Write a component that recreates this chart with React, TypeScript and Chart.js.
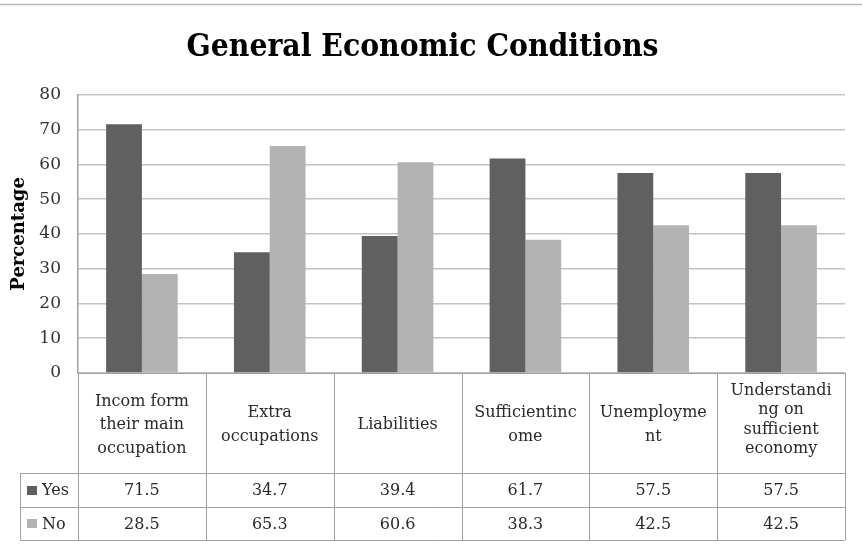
import React, { useEffect, useRef } from 'react';
import { Chart, registerables } from 'chart.js';

Chart.register(...registerables);

const chartTitle = 'General Economic Conditions';
const yAxisTitle = 'Percentage';
const categories: string[][] = [
  ['Incom form', 'their main', 'occupation'],
  ['Extra', 'occupations'],
  ['Liabilities'],
  ['Sufficientinc', 'ome'],
  ['Unemployme', 'nt'],
  ['Understandi', 'ng on', 'sufficient', 'economy'],
];
const seriesNames = ['Yes', 'No'];
const yesValues = [71.5, 34.7, 39.4, 61.7, 57.5, 57.5];
const noValues = [28.5, 65.3, 60.6, 38.3, 42.5, 42.5];
const yMin = 0;
const yMax = 80;
const yStep = 10;

const W = 862;
const H = 546;
const YES_COLOR = '#606060';
const NO_COLOR = '#b3b3b3';
const LINE_COLOR = '#a0a0a0';
const GRID_COLOR = '#c4c4c4';
const TEXT_COLOR = '#2a2a2a';
const SERIF = "'DejaVu Serif', serif";
const HEADER_H = 100;
const ROW1_H = 34;
const ROW2_H = 33;
const LEGEND_LEFT = 20.5;

const frameLinePlugin = {
  id: 'frameLine',
  beforeDraw(chart: any) {
    const ctx = chart.ctx;
    ctx.save();
    ctx.strokeStyle = '#b8b8b8';
    ctx.lineWidth = 1.5;
    ctx.beginPath();
    ctx.moveTo(0, 4.5);
    ctx.lineTo(chart.width, 4.5);
    ctx.stroke();
    ctx.restore();
  },
};

const dataTablePlugin = {
  id: 'dataTable',
  afterDraw(chart: any) {
    const { ctx, chartArea } = chart;
    const xs = chart.scales.x;
    const n = categories.length;
    const left = chartArea.left;
    const right = chartArea.right;
    const colW = (right - left) / n;
    const top = chartArea.bottom;
    const headerBottom = top + HEADER_H;
    const row1Bottom = headerBottom + ROW1_H;
    const row2Bottom = row1Bottom + ROW2_H;
    const px = (v: number) => Math.round(v) + 0.5;

    ctx.save();
    ctx.strokeStyle = LINE_COLOR;
    ctx.lineWidth = 1;
    ctx.beginPath();
    for (let i = 0; i <= n; i++) {
      const xb = i < n ? xs.getPixelForValue(i) - colW / 2 : xs.getPixelForValue(n - 1) + colW / 2;
      ctx.moveTo(px(xb), top);
      ctx.lineTo(px(xb), row2Bottom);
    }
    ctx.moveTo(LEGEND_LEFT, headerBottom);
    ctx.lineTo(LEGEND_LEFT, row2Bottom);
    ctx.moveTo(left, px(top));
    ctx.lineTo(right, px(top));
    for (const yy of [headerBottom, row1Bottom, row2Bottom]) {
      ctx.moveTo(LEGEND_LEFT, px(yy));
      ctx.lineTo(right, px(yy));
    }
    ctx.stroke();

    ctx.fillStyle = TEXT_COLOR;
    ctx.font = `16px ${SERIF}`;
    ctx.textAlign = 'center';
    ctx.textBaseline = 'middle';
    categories.forEach((lines, i) => {
      const cx = xs.getPixelForValue(i);
      const lh = lines.length >= 4 ? 19.5 : 23.5;
      const cy = top + 52 - Math.max(0, lines.length - 3) * 5;
      const start = cy - ((lines.length - 1) * lh) / 2;
      lines.forEach((ln, j) => ctx.fillText(ln, cx, start + j * lh));
    });

    const rows = [
      { name: seriesNames[0], values: yesValues, color: YES_COLOR, y0: headerBottom, y1: row1Bottom },
      { name: seriesNames[1], values: noValues, color: NO_COLOR, y0: row1Bottom, y1: row2Bottom },
    ];
    rows.forEach((r) => {
      const cy = (r.y0 + r.y1) / 2 + 1;
      ctx.fillStyle = TEXT_COLOR;
      ctx.textAlign = 'center';
      r.values.forEach((v, i) => {
        ctx.fillText(v.toFixed(1), xs.getPixelForValue(i), cy);
      });
      ctx.fillStyle = r.color;
      ctx.fillRect(27, Math.round(cy - 5.5), 10, 9);
      ctx.fillStyle = TEXT_COLOR;
      ctx.textAlign = 'left';
      ctx.fillText(r.name, 42, cy);
    });
    ctx.restore();
  },
};

export default function App() {
  const ref = useRef<HTMLCanvasElement | null>(null);

  useEffect(() => {
    if (!ref.current) return;
    const chart = new Chart(ref.current, {
      type: 'bar',
      data: {
        labels: categories.map((c) => c.join(' ')),
        datasets: [
          {
            label: seriesNames[0],
            data: yesValues,
            backgroundColor: YES_COLOR,
            categoryPercentage: 0.56,
            barPercentage: 1,
          },
          {
            label: seriesNames[1],
            data: noValues,
            backgroundColor: NO_COLOR,
            categoryPercentage: 0.56,
            barPercentage: 1,
          },
        ],
      },
      options: {
        responsive: false,
        animation: false,
        layout: { padding: { left: 0, right: 17, top: 0, bottom: 0 } },
        plugins: {
          legend: { display: false },
          tooltip: { enabled: false },
          title: {
            display: true,
            text: chartTitle,
            color: '#000',
            font: { family: "'DejaVu Serif Condensed', 'DejaVu Serif', serif", size: 31.5, weight: 'bold' },
            padding: { top: 29, bottom: 28 },
          },
        },
        scales: {
          x: {
            display: true,
            grid: { display: false, drawTicks: false },
            border: { display: true, color: LINE_COLOR, width: 1 },
            ticks: { display: false },
            afterFit: (scale: any) => {
              scale.height = 173;
            },
          },
          y: {
            min: yMin,
            max: yMax,
            ticks: {
              stepSize: yStep,
              color: '#333',
              font: { family: SERIF, size: 17 },
              padding: 17,
            },
            grid: { color: GRID_COLOR, lineWidth: 1.5, drawTicks: false },
            border: { display: true, color: LINE_COLOR, width: 1.5 },
            title: {
              display: true,
              text: yAxisTitle,
              color: '#000',
              font: { family: SERIF, size: 18, weight: 'bold' },
              padding: { top: 9, bottom: 0 },
            },
            afterFit: (scale: any) => {
              scale.width = 78;
            },
          },
        },
      },
      plugins: [frameLinePlugin, dataTablePlugin],
    });
    return () => chart.destroy();
  }, []);

  return (
    <canvas
      ref={ref}
      width={W}
      height={H}
      style={{ position: 'absolute', left: 0, top: 0, display: 'block', width: W, height: H }}
    />
  );
}
